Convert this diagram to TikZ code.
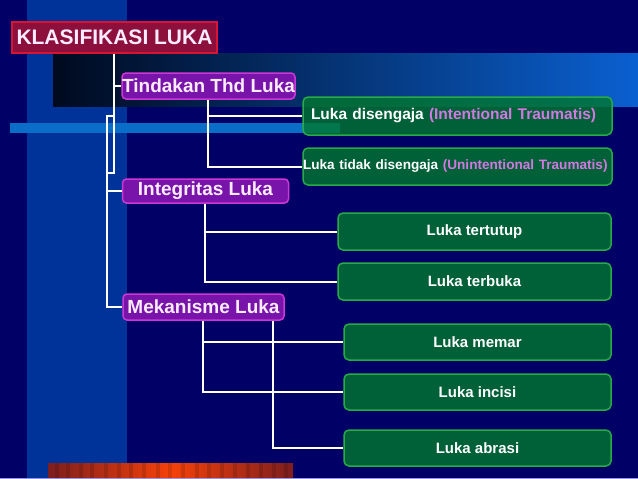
\documentclass[tikz,border=0pt]{standalone}
\usepackage{fontspec}
\setmainfont{Liberation Sans}
\definecolor{navy}{RGB}{0,0,102}
\definecolor{bandblue}{RGB}{0,51,153}
\definecolor{barblue}{RGB}{10,110,200}
\definecolor{darkstart}{RGB}{0,10,30}
\definecolor{bluend}{RGB}{10,96,208}
\definecolor{gfill}{RGB}{0,120,45}
\definecolor{gborder}{RGB}{40,170,70}
\definecolor{pfill}{RGB}{120,20,170}
\definecolor{pborder}{RGB}{205,55,215}
\definecolor{rfill}{RGB}{140,15,60}
\definecolor{rborder}{RGB}{215,20,50}
\definecolor{orchid}{RGB}{210,120,225}
\definecolor{palepink}{RGB}{250,235,255}
\definecolor{redmid}{RGB}{245,65,10}
\definecolor{redend}{RGB}{125,30,30}
\definecolor{lavline}{RGB}{150,150,220}
\begin{document}
\begin{tikzpicture}[x=1pt,y=-1pt,
  titlebox/.style={draw=rborder, fill=rfill, line width=1.5pt, inner sep=0pt,
    text=palepink, font=\bfseries\fontsize{21}{21}\selectfont},
  catbox/.style={draw=pborder, fill=pfill, line width=1.5pt, rounded corners=4pt,
    inner sep=0pt, text=palepink, font=\bfseries\fontsize{19}{19}\selectfont},
  leafbox/.style={draw=gborder, fill=gfill, fill opacity=0.8, text opacity=1,
    line width=1.5pt, rounded corners=5pt, inner sep=0pt, text=white,
    font=\bfseries\fontsize{15}{15}\selectfont},
  link/.style={draw=white, line width=2pt}]
% background
\fill[navy] (0,0) rectangle (638,479);
\useasboundingbox (0,0) rectangle (638,479);
\fill[bandblue] (27,0) rectangle (127,479);
\shade[left color=darkstart, right color=bluend] (53,53) rectangle (638,106);
\fill[barblue] (10,123) rectangle (340,133);
\shade[left color=redend, right color=redend, middle color=redmid] (48,463) rectangle (293,479);
\foreach \s in {55,66,79,90,104,117,129,142,156,168,181,195,207,220,233,246,259,272,284}
  \fill[black, opacity=0.12] (\s,463) rectangle (\s+4,479);
\fill[lavline] (0,477.5) rectangle (638,479);
% nodes
\node[titlebox, minimum width=205pt, minimum height=31pt] (title) at (114.5,37.5) {KLASIFIKASI LUKA};
\node[catbox, minimum width=173pt, minimum height=26pt] (tind) at (208.5,86) {Tindakan Thd Luka};
\node[catbox, minimum width=166pt, minimum height=24pt] (integ) at (205.5,191) {Integritas Luka};
\node[catbox, minimum width=161pt, minimum height=26pt] (meka) at (203.5,307) {Mekanisme Luka};
\node[leafbox, minimum height=38pt, text width=293pt, inner xsep=8pt, align=left,
  font=\bfseries\fontsize{15.5}{15.5}\selectfont] (seng) at (457.5,116)
  {Luka disengaja \textcolor{orchid}{(Intentional Traumatis)}};
\node[leafbox, minimum height=37pt, text width=309pt, align=left,
  font=\bfseries\fontsize{13.6}{13.6}\selectfont] (tidak) at (457.5,166.5)
  {Luka tidak disengaja \textcolor{orchid}{(Unintentional Traumatis)}};
\node[leafbox, minimum width=273pt, minimum height=37pt] (tutup) at (474.5,231.5) {Luka tertutup};
\node[leafbox, minimum width=273pt, minimum height=37pt] (buka) at (474.5,281.5) {Luka terbuka};
\node[leafbox, minimum width=267pt, minimum height=36pt] (memar) at (477.5,342) {Luka memar};
\node[leafbox, minimum width=267pt, minimum height=36pt] (incisi) at (477.5,392) {Luka incisi};
\node[leafbox, minimum width=267pt, minimum height=36pt] (abrasi) at (477.5,448) {Luka abrasi};
% junction coordinates
\coordinate (a1) at (114,173);
\coordinate (a2) at (107,173);
\coordinate (a0) at (107,116);
\coordinate (b) at (208,0);
\coordinate (c) at (205,0);
\coordinate (d1) at (203,0);
\coordinate (d2) at (273,0);
% connectors
\draw[link] (title.south -| a1) -- (a1) -- (a2);
\draw[link] (a1 |- tind.west) -- (tind.west);
\draw[link] (a0 -| a1) -- (a0) -- (a0 |- meka.west) -- (meka.west);
\draw[link] (a0 |- integ.west) -- (integ.west);
\draw[link] (tind.south -| b) -- (b |- tidak.west) -- (tidak.west);
\draw[link] (b |- seng.west) -- (seng.west);
\draw[link] (integ.south -| c) -- (c |- buka.west) -- (buka.west);
\draw[link] (c |- tutup.west) -- (tutup.west);
\draw[link] (meka.south -| d1) -- (d1 |- incisi.west) -- (incisi.west);
\draw[link] (d1 |- memar.west) -- (memar.west);
\draw[link] (meka.south -| d2) -- (d2 |- abrasi.west) -- (abrasi.west);
\end{tikzpicture}
\end{document}
